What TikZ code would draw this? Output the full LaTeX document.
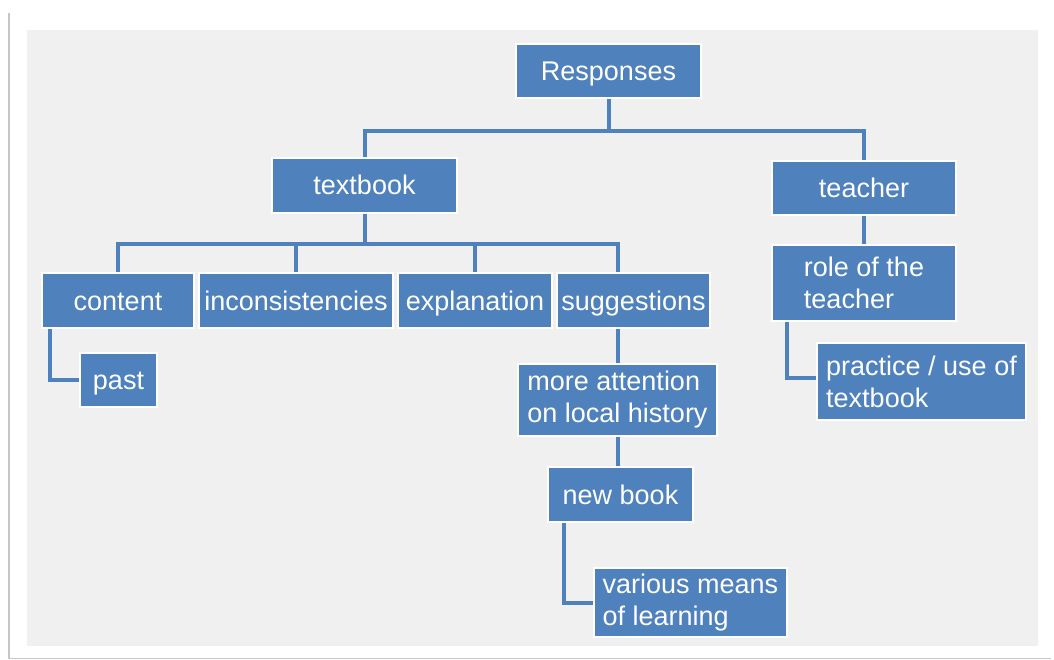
\documentclass[tikz,border=0pt]{standalone}
\usepackage{fontspec}
\setmainfont{Liberation Sans}
\definecolor{boxblue}{RGB}{79,129,189}
\definecolor{paper}{RGB}{240,240,240}

\begin{document}
\begin{tikzpicture}[x=1pt, y=-1pt, box/.style={rectangle, fill=boxblue, draw=white, line width=1.5pt, text=white, inner sep=0pt, align=left, font=\fontsize{27}{32}\selectfont}, single/.style={box, text height=19pt, text depth=0pt}, link/.style={draw=boxblue, line width=4pt}]

\useasboundingbox (0,0) rectangle (1054,660);
\fill[gray!45] (8,13) rectangle (1051,659);
\fill[white] (10,12) rectangle (1052,658);
\fill[paper] (27,30) rectangle (1038,646);

\node[single, minimum width=185pt, minimum height=54pt] (resp) at (608.5,71) {Responses};
\node[single, minimum width=185pt, minimum height=55pt] (textbook) at (364.5,185.5) {textbook};
\node[single, minimum width=184pt, minimum height=54pt] (teacher) at (864,188) {teacher};

\node[single, minimum width=152pt, minimum height=55pt] (content) at (118,300.5) {content};
\node[single, minimum width=194pt, minimum height=55pt] (incons) at (296,300.5) {inconsistencies};
\node[single, minimum width=154pt, minimum height=55pt] (expl) at (475,300.5) {explanation};
\node[single, minimum width=153pt, minimum height=55pt] (sugg) at (633.5,300.5) {suggestions};
\node[single, minimum width=77pt, minimum height=54pt] (past) at (118.5,380) {past};

\node[box, minimum width=199pt, minimum height=72pt] (more) at (617.5,400) {more attention\\on local history};
\node[single, minimum width=145pt, minimum height=55pt] (newbook) at (620.5,494.5) {new book};
\node[box, minimum width=193pt, minimum height=69pt] (various) at (690.5,602.5) {various means\\of learning};

\node[box, minimum width=184pt, minimum height=76pt] (role) at (864,283) {role of the\\teacher};
\node[box, minimum width=209pt, minimum height=77pt] (practice) at (921.5,381.5) {practice / use of\\textbook};

% top level
\draw[link] (resp.south) -- ++(0,32) -| (textbook.north);
\draw[link] (resp.south) -- ++(0,32) -| (teacher.north);

% textbook branch
\foreach \n in {content, incons, expl}
    \draw[link] (textbook.south) -- ++(0,30) -| (\n.north);
\draw[link] (textbook.south) -- ++(0,30) -| (more.north |- sugg.north);
\draw[link] ([xshift=9pt]content.south west) |- (past.west);
\draw[link] (more.north |- sugg.south) -- (more.north);
\draw[link] (more.south) -- (more.south |- newbook.north);
\draw[link] ([xshift=17pt]newbook.south west) |- (various.west);

% teacher branch
\draw[link] (teacher.south) -- (role.north);
\draw[link] ([xshift=16pt]role.south west) |- ([yshift=3.5pt]practice.west);
\end{tikzpicture}
\end{document}
